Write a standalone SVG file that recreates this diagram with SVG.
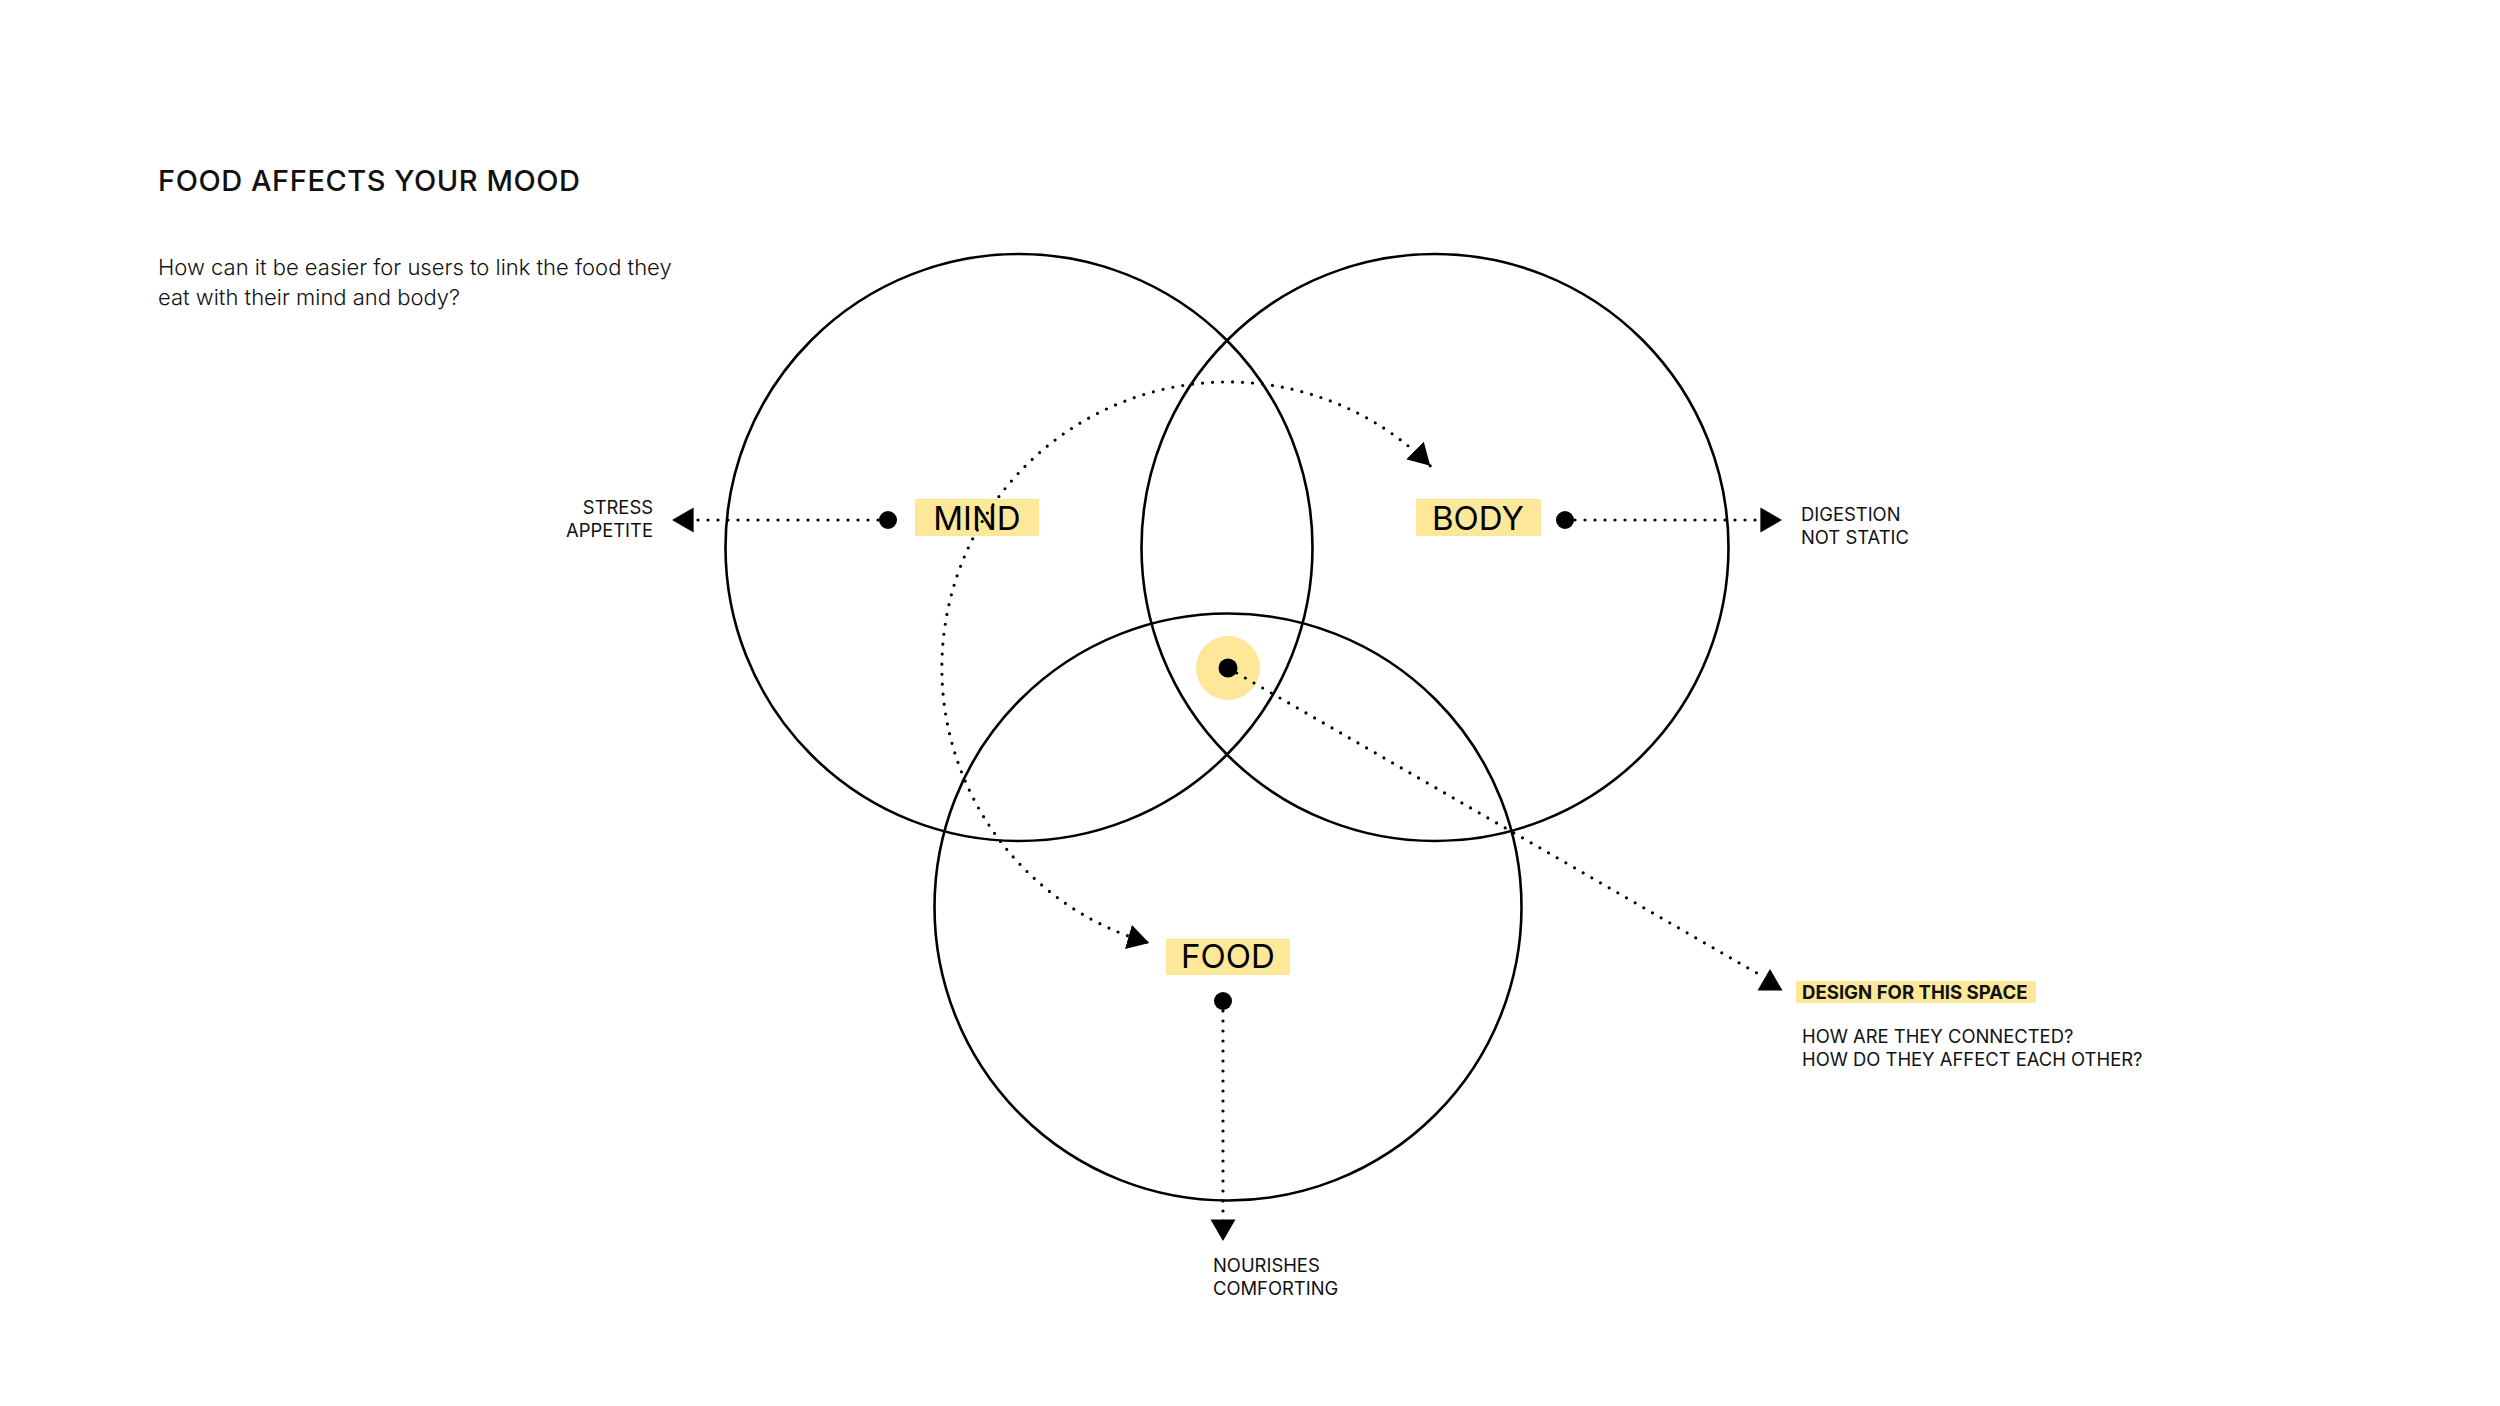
<svg xmlns="http://www.w3.org/2000/svg" width="2500" height="1406" viewBox="0 0 2500 1406">
<style>
.ring{fill:none;stroke:#000;stroke-width:2.6}
.dot{fill:#000}
.hl{fill:#FDE89A}
.dotted{fill:none;stroke:#000;stroke-width:3.2;stroke-linecap:round;stroke-dasharray:0 10}
.title{font-family:Inter,"Liberation Sans",sans-serif;font-weight:500;font-size:29px;fill:#111}
.sub{font-family:Inter,"Liberation Sans",sans-serif;font-weight:300;font-size:22px;fill:#111}
.big{font-family:Inter,"Liberation Sans",sans-serif;font-weight:400;font-size:33px;fill:#000;text-anchor:middle}
.small{font-family:Inter,"Liberation Sans",sans-serif;font-weight:400;font-size:18.4px;fill:#111}
.bold{font-family:Inter,"Liberation Sans",sans-serif;font-weight:700;font-size:18.6px;fill:#111}
</style>
<defs>
<marker id="arrow" markerUnits="userSpaceOnUse" viewBox="0 0 22 26" markerWidth="22" markerHeight="26" refX="21.6" refY="13" orient="auto-start-reverse">
<path d="M0,0.5 L21.6,13 L0,25.5 z" fill="#000"/>
</marker>
<marker id="arrowUp" markerUnits="userSpaceOnUse" viewBox="0 0 22 26" markerWidth="22" markerHeight="26" refX="14.6" refY="5" orient="-90">
<path d="M0,0.5 L21.6,13 L0,25.5 z" fill="#000"/>
</marker>
</defs>
<rect width="2500" height="1406" fill="#fff"/>
<g id="heading">
<text class="title" x="158" y="191" textLength="422" lengthAdjust="spacing">FOOD AFFECTS YOUR MOOD</text>
<text class="sub" x="158" y="275">How can it be easier for users to link the food they</text>
<text class="sub" x="158" y="305">eat with their mind and body?</text>
</g>
<g id="circles">
<circle id="mind-circle" class="ring" cx="1019" cy="547.5" r="293.5"/>
<circle id="body-circle" class="ring" cx="1435" cy="547.5" r="293.5"/>
<circle id="food-circle" class="ring" cx="1228" cy="907" r="293.5"/>
</g>
<g id="center">
<circle class="hl" cx="1228" cy="668" r="32"/>
<circle class="dot" cx="1228" cy="668" r="9.5"/>
</g>
<g id="mind">
<rect class="hl" x="915" y="499" width="124" height="37"/>
<text class="big" x="977" y="530">MIND</text>
<circle class="dot" cx="888" cy="520" r="9"/>
</g>
<g id="mind-notes">
<text class="small" x="653" y="514" text-anchor="end">STRESS</text>
<text class="small" x="653" y="537" text-anchor="end">APPETITE</text>
</g>
<g id="body">
<rect class="hl" x="1416" y="499" width="125" height="37"/>
<text class="big" x="1478" y="530">BODY</text>
<circle class="dot" cx="1565" cy="520" r="9"/>
</g>
<g id="body-notes">
<text class="small" x="1801" y="521">DIGESTION</text>
<text class="small" x="1801" y="544">NOT STATIC</text>
</g>
<g id="food">
<rect class="hl" x="1166" y="939" width="124" height="36"/>
<text class="big" x="1228" y="968">FOOD</text>
<circle class="dot" cx="1223" cy="1001" r="9"/>
</g>
<g id="food-notes">
<text class="small" x="1213" y="1272">NOURISHES</text>
<text class="small" x="1213" y="1295">COMFORTING</text>
</g>
<g id="design">
<rect class="hl" x="1796" y="981" width="240" height="22"/>
<text class="bold" x="1802" y="999">DESIGN FOR THIS SPACE</text>
<text class="small" x="1802" y="1043">HOW ARE THEY CONNECTED?</text>
<text class="small" x="1802" y="1066">HOW DO THEY AFFECT EACH OTHER?</text>
</g>
<g id="connectors">
<path class="dotted" d="M888,520 L672,520" marker-end="url(#arrow)"/>
<path class="dotted" d="M1565,520 L1782,520" marker-end="url(#arrow)"/>
<path class="dotted" d="M1223,1001 L1223,1241" marker-end="url(#arrow)"/>
<path class="dotted" d="M1430.2,465.8 A286,286 0 1 0 1149.2,942.9" marker-start="url(#arrow)" marker-end="url(#arrow)"/>
<path class="dotted" d="M1228,668 L1762,976" marker-end="url(#arrowUp)"/>
</g>
</svg>
